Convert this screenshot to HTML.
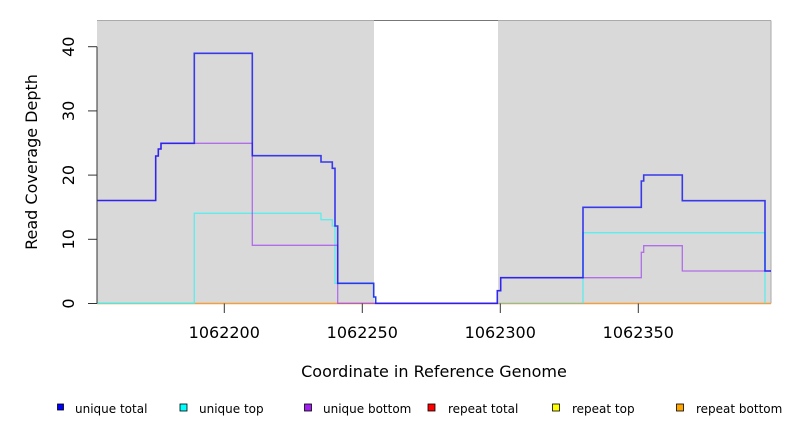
<!DOCTYPE html>
<html><head><meta charset="utf-8"><style>
html,body{margin:0;padding:0;background:#fff}
svg{display:block}
text{font-family:"DejaVu Sans","Liberation Sans",sans-serif;fill:#000}
</style></head><body>
<svg width="792" height="432" viewBox="0 0 792 432" xmlns="http://www.w3.org/2000/svg">
<rect x="97" y="20.5" width="277" height="283" fill="#d9d9d9"/>
<rect x="498" y="20.5" width="273" height="283" fill="#d9d9d9"/>
<line x1="374" y1="20.5" x2="498" y2="20.5" stroke="#777" stroke-width="1"/>
<line x1="97" y1="20.5" x2="374" y2="20.5" stroke="#aaa" stroke-width="1"/>
<line x1="498" y1="20.5" x2="771" y2="20.5" stroke="#aaa" stroke-width="1"/>
<line x1="771" y1="20.5" x2="771" y2="303.5" stroke="#aaa" stroke-width="1"/>
<!-- baseline -->
<line x1="97" y1="303.5" x2="771" y2="303.5" stroke="#f0a040" stroke-width="1.5"/>
<line x1="97" y1="303.5" x2="194" y2="303.5" stroke="#90c090" stroke-width="1"/>
<line x1="498" y1="303.5" x2="583" y2="303.5" stroke="#90c090" stroke-width="1"/>
<!-- unique top -->
<path d="M97,303.3 H194.3 V213.3 H321 V219.7 H332.3 V226 H335 V283.3 H373.7 V297 H375.7 V303.3 M583,303.3 V232.7 H765 V303.3" fill="none" stroke="#40f0f0" stroke-opacity="0.8" stroke-width="1.3"/>
<!-- unique bottom -->
<path d="M97,200.5 H155.7 V156 H158.3 V149 H161 V143.3 H252.3 V245.3 H337.7 V303.3 H497.3 V290.7 H500.7 V277.7 H641.3 V252.3 H643.7 V245.7 H682.3 V271 H771" fill="none" stroke="#a040f0" stroke-opacity="0.7" stroke-width="1.3"/>
<!-- unique total -->
<path d="M97,200.5 H155.7 V156 H158.3 V149 H161 V143.3 H194.3 V53.3 H252.3 V155.7 H321 V162 H332.3 V168.3 H335 V226 H337.7 V283.3 H373.7 V297 H375.7 V303.3 H497.3 V290.7 H500.7 V277.7 H583 V207.3 H641.3 V181 H643.7 V175 H682.3 V200.7 H765 V271 H771" fill="none" stroke="#1010f0" stroke-opacity="0.8" stroke-width="1.6"/>
<!-- y axis -->
<g stroke="#333" stroke-width="1">
<line x1="97" y1="46.7" x2="97" y2="303.5"/>
<line x1="88" y1="46.7" x2="97" y2="46.7"/>
<line x1="88" y1="110.9" x2="97" y2="110.9"/>
<line x1="88" y1="175.1" x2="97" y2="175.1"/>
<line x1="88" y1="239.3" x2="97" y2="239.3"/>
<line x1="88" y1="303.5" x2="97" y2="303.5"/>
<line x1="224.3" y1="303.5" x2="224.3" y2="313"/>
<line x1="362.3" y1="303.5" x2="362.3" y2="313"/>
<line x1="500.3" y1="303.5" x2="500.3" y2="313"/>
<line x1="638.3" y1="303.5" x2="638.3" y2="313"/>
</g>
<g font-size="16" text-anchor="middle">
<text transform="translate(74,46.7) rotate(-90)">40</text>
<text transform="translate(74,110.9) rotate(-90)">30</text>
<text transform="translate(74,175.1) rotate(-90)">20</text>
<text transform="translate(74,239.3) rotate(-90)">10</text>
<text transform="translate(74,303.5) rotate(-90)">0</text>
<text x="224.3" y="338">1062200</text>
<text x="362.3" y="338">1062250</text>
<text x="500.3" y="338">1062300</text>
<text x="638.3" y="338">1062350</text>
<text x="434" y="377">Coordinate in Reference Genome</text>
<text transform="translate(37,162) rotate(-90)">Read Coverage Depth</text>
</g>
<!-- legend -->
<g stroke="#000" stroke-width="0.8">
<rect x="57.5" y="404" width="6" height="6" fill="#0000ff"/>
<rect x="180" y="404" width="7" height="7" fill="#00ffff"/>
<rect x="304.5" y="404" width="7" height="7" fill="#a020f0"/>
<rect x="428" y="404" width="7" height="7" fill="#ff0000"/>
<rect x="552.5" y="404" width="7" height="7" fill="#ffff00"/>
<rect x="676.5" y="404" width="7" height="7" fill="#ffa500"/>
</g>
<g font-size="12">
<text x="75" y="413">unique total</text>
<text x="199" y="413">unique top</text>
<text x="323" y="413">unique bottom</text>
<text x="448" y="413">repeat total</text>
<text x="572" y="413">repeat top</text>
<text x="696" y="413">repeat bottom</text>
</g>
</svg>
</body></html>
